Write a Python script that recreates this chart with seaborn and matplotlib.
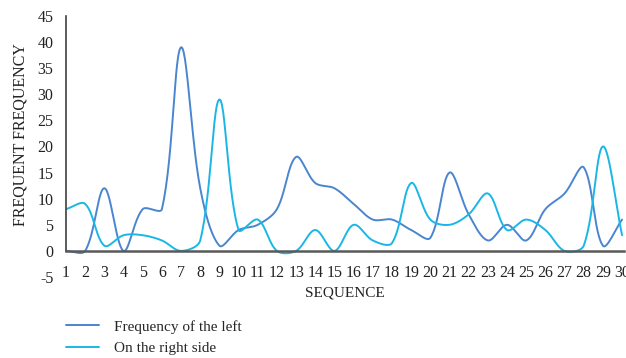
import numpy as np
import pandas as pd
import matplotlib
matplotlib.use("Agg")
import matplotlib.pyplot as plt
import seaborn as sns

# Frequency readings for each sequence position
sequence = list(range(1, 31))
left_freq = [0, 0, 12, 0, 8, 8, 39, 12, 1, 4, 5, 8, 18, 13, 12, 9, 6, 6, 4, 2.5,
             15, 7, 2, 5, 2, 8, 11, 16, 1, 6]
right_freq = [8, 9, 1, 3, 3, 2, 0, 2, 29, 4, 6, 0, 0, 4, 0, 5, 2, 1.5, 13, 6,
              5, 7, 11, 4, 6, 4, 0, 1, 20, 3]
series_names = ["Frequency of the left", "On the right side"]
y_ticks = list(range(-5, 50, 5))

# approximate screen scale (pixels per data unit) used to weight the tangents
PX_PER_X = 19.2
PX_PER_Y = 5.22


def smooth_curve(xs, ys, steps=30):
    """Cubic Bezier through every point, tangents weighted by segment length."""
    pts = np.column_stack([np.asarray(xs, float) * PX_PER_X,
                           np.asarray(ys, float) * PX_PER_Y])
    n = len(pts)
    seg = np.linalg.norm(np.diff(pts, axis=0), axis=1)
    out = []
    t = np.linspace(0, 1, steps, endpoint=False)[:, None]
    for i in range(n - 1):
        p0, p3 = pts[i], pts[i + 1]
        # outgoing handle at p0
        if i == 0:
            c1 = p0 + (p3 - p0) / 3.0
        else:
            tan = pts[i + 1] - pts[i - 1]
            c1 = p0 + tan * seg[i] / (seg[i - 1] + seg[i] + 1e-9) / 2.0 * (2 / 3) * 0.5 * 2
        # incoming handle at p3
        if i + 1 == n - 1:
            c2 = p3 - (p3 - p0) / 3.0
        else:
            tan = pts[i + 2] - pts[i]
            c2 = p3 - tan * seg[i] / (seg[i] + seg[i + 1] + 1e-9) / 2.0 * (2 / 3) * 0.5 * 2
        b = (1 - t) ** 3 * p0 + 3 * (1 - t) ** 2 * t * c1 + 3 * (1 - t) * t ** 2 * c2 + t ** 3 * p3
        out.append(b)
    out.append(pts[-1][None, :])
    out = np.vstack(out)
    return out[:, 0] / PX_PER_X, out[:, 1] / PX_PER_Y


frames = []
for name, vals in zip(series_names, [left_freq, right_freq]):
    sx, sy = smooth_curve(sequence, vals)
    frames.append(pd.DataFrame({"seq": sx, "freq": sy, "series": name}))
df = pd.concat(frames, ignore_index=True)

sns.set_style("white")
plt.rcParams["font.family"] = ["Liberation Serif", "DejaVu Serif"]
plt.rcParams["font.size"] = 11
plt.rcParams["axes.unicode_minus"] = False

fig = plt.figure(figsize=(6.26, 3.58), dpi=100)
ax = fig.add_axes([66 / 626, 1 - 277 / 358, 558 / 626, 261 / 358])

palette = {series_names[0]: "#4a86cf", series_names[1]: "#1ab7e6"}
sns.lineplot(data=df, x="seq", y="freq", hue="series", palette=palette,
             estimator=None, sort=False, linewidth=1.4, ax=ax, legend=True)

ax.set_xlim(1, 30.1)
ax.set_ylim(-5, 45)
ax.set_yticks(y_ticks)
ax.set_xticks(sequence)
ax.set_xticklabels([str(s) for s in sequence])

for side in ["top", "right"]:
    ax.spines[side].set_visible(False)
ax.spines["bottom"].set_position(("data", 0))
ax.spines["bottom"].set_color("#595959")
ax.spines["bottom"].set_linewidth(1.8)
ax.spines["left"].set_bounds(0, 45)
ax.spines["left"].set_color("#404040")
ax.spines["left"].set_linewidth(1.2)

ax.tick_params(axis="both", length=0, labelsize=11.5, colors="#222222")
ax.tick_params(axis="x", pad=10)
ax.tick_params(axis="y", pad=9)

ax.set_xlabel("SEQUENCE", fontsize=11, color="#222222", labelpad=4)
ax.set_ylabel("FREQUENT FREQUENCY", fontsize=11.5, color="#222222")
ax.yaxis.set_label_coords(-0.068, 0.544)

handles, labels = ax.get_legend_handles_labels()
ax.get_legend().remove()
fig.legend(handles, labels, loc="upper left", bbox_to_anchor=(52 / 626, 1 - 306 / 358),
           frameon=False, fontsize=11, handlelength=2.2, handletextpad=0.95,
           labelspacing=0.5)

fig.savefig("out.png", dpi=100)
